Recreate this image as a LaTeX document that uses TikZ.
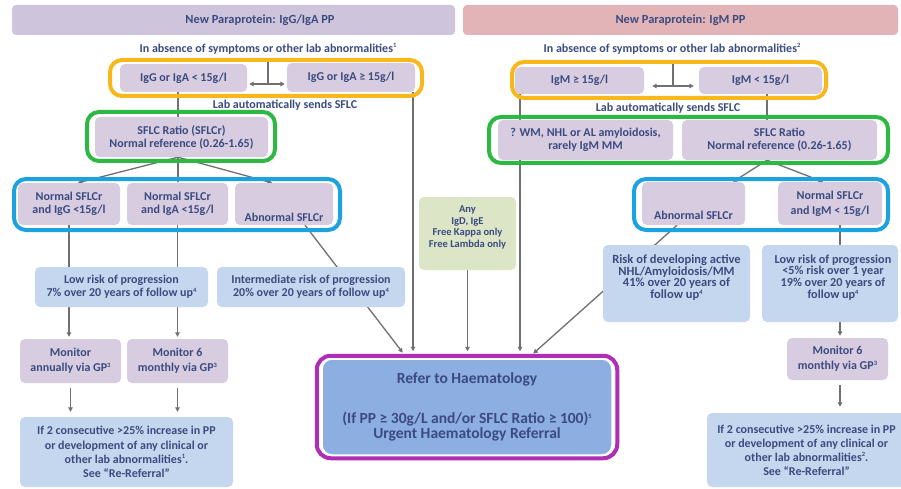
\documentclass[tikz,border=0pt]{standalone}
\usepackage{fontspec}
\setmainfont{Carlito}
\usetikzlibrary{arrows.meta,backgrounds,calc}
\definecolor{txt}{HTML}{3B4B80}
\definecolor{lav}{HTML}{D7CCE0}
\definecolor{hdrL}{HTML}{CEC4DC}
\definecolor{hdrR}{HTML}{E2B4B7}
\definecolor{lblue}{HTML}{C5D7EE}
\definecolor{anyg}{HTML}{DDE5C7}
\definecolor{haemb}{HTML}{8DAEE0}
\definecolor{fOr}{HTML}{F8B81C}
\definecolor{fGr}{HTML}{2DB843}
\definecolor{fBl}{HTML}{1CA2DF}
\definecolor{fPu}{HTML}{B02DB5}
\definecolor{conncol}{HTML}{707070}
\newcommand\mysup[1]{\raisebox{4.5pt}{\fontsize{6.5}{6.5}\selectfont #1}}
\tikzset{
  txtn/.style={inner sep=0pt, align=center, text=txt, font=\bfseries\fontsize{12}{13}\selectfont},
  box/.style={txtn, rounded corners=5pt},
  lavbox/.style={box, fill=lav},
  bluebox/.style={box, fill=lblue},
  frame/.style={draw=#1, line width=4pt, rounded corners=12pt, inner sep=0pt},
  conn/.style={draw=conncol, line width=1.3pt},
  arrS/.style={conn, -{Triangle[length=4.5pt,width=4.5pt]}},
  darr/.style={conn, {Triangle[length=4.5pt,width=4.5pt]}-{Triangle[length=4.5pt,width=4.5pt]}},
}
\begin{document}
\begin{tikzpicture}[x=1pt,y=-1pt]
\useasboundingbox (0,0) rectangle (901,489);
\begin{pgfonlayer}{background}
\fill[white] (0,0) rectangle (901,489);
\end{pgfonlayer}

% headers
\node[box, fill=hdrL, rounded corners=4pt, minimum width=443pt, minimum height=30pt,
      font=\bfseries\fontsize{12.4}{13}\selectfont] (hL) at (233.5,20) {\hspace*{53pt}New Paraprotein: IgG/IgA PP};
\node[box, fill=hdrR, rounded corners=4pt, minimum width=435pt, minimum height=30pt,
      font=\bfseries\fontsize{12.4}{13}\selectfont] (hR) at (680.5,20) {New Paraprotein: IgM PP};
\node[txtn] (absL) at (268,49) {In absence of symptoms or other lab abnormalities\mysup{1}};
\node[txtn] (absR) at (672,49) {In absence of symptoms or other lab abnormalities\mysup{2}};

% ---------- left column ----------
\node[frame=fOr, minimum width=312pt, minimum height=36pt] (oL) at (266,78) {};
\node[lavbox, minimum width=127pt, minimum height=28pt] (ltL) at (183.5,78) {IgG or IgA < 15g/l};
\node[lavbox, minimum width=128pt, minimum height=29pt] (geL) at (351,77.5) {IgG or IgA ≥ 15g/l};
\coordinate (jL) at (268,84);
\node[txtn] (labL) at (285,105) {Lab automatically sends SFLC};

\node[frame=fGr, minimum width=188pt, minimum height=49pt] (gL) at (181,136.5) {};
\node[lavbox, minimum width=173pt, minimum height=40pt] (sflcL) at (181.5,137) {SFLC Ratio (SFLCr)\\Normal reference (0.26-1.65)};

\node[frame=fBl, minimum width=326pt, minimum height=51pt] (bL) at (177,204.5) {};
\node[lavbox, minimum width=102pt, minimum height=42pt] (n1L) at (69,204) {Normal SFLCr\\and IgG <15g/l};
\node[lavbox, minimum width=101pt, minimum height=42pt] (n2L) at (177.5,204) {Normal SFLCr\\and IgA <15g/l};
\node[lavbox, minimum width=98pt, minimum height=42pt,
      label={[txtn, yshift=-13pt]center:Abnormal SFLCr}] (abL) at (284,204) {};

\node[bluebox, minimum width=173pt, minimum height=40pt] (lowL) at (121.5,287) {Low risk of progression\\7\% over 20 years of follow up\mysup{4}};
\node[bluebox, minimum width=188pt, minimum height=40pt] (intL) at (311,287) {Intermediate risk of progression\\20\% over 20 years of follow up\mysup{4}};

\node[lavbox, minimum width=101pt, minimum height=44pt, font=\bfseries\fontsize{12}{15}\selectfont] (monAL) at (70.5,361) {Monitor\\annually via GP\mysup{3}};
\node[lavbox, minimum width=101pt, minimum height=44pt, font=\bfseries\fontsize{12}{15}\selectfont] (mon6L) at (177.5,361) {Monitor 6\\monthly via GP\mysup{3}};
\node[bluebox, minimum width=213pt, minimum height=70pt, font=\bfseries\fontsize{12}{14.3}\selectfont] (botL) at (126.5,452)
  {If 2 consecutive >25\% increase in PP\\or development of any clinical or\\other lab abnormalities\mysup{1}.\\See “Re-Referral”};

% ---------- middle ----------
\node[box, fill=anyg, minimum width=97pt, minimum height=73pt,
      label={[txtn, font=\bfseries\fontsize{10.5}{11.7}\selectfont, yshift=6pt]center:Any\\IgD, IgE\\Free Kappa only\\Free Lambda only}] (anyB) at (467.5,233.5) {};

\node[box, fill=haemb, draw=white, line width=1.5pt, rounded corners=10pt, minimum width=290pt, minimum height=96pt,
      font=\bfseries\fontsize{15.5}{15.5}\selectfont] (haem) at (467,407)
  {Refer to Haematology\\[24pt](If PP ≥ 30g/L and/or SFLC Ratio ≥ 100)\mysup{5}\\Urgent Haematology Referral};
\draw[draw=fPu, line width=4pt, rounded corners=14pt] ([shift={(-4.5,-2.5)}]haem.north west) rectangle ([shift={(4.5,2.5)}]haem.south east);

% ---------- right column ----------
\node[frame=fOr, minimum width=314pt, minimum height=36pt] (oR) at (669,80) {};
\node[lavbox, minimum width=129pt, minimum height=27pt] (geR) at (579.5,80.5) {IgM ≥ 15g/l};
\node[lavbox, minimum width=123pt, minimum height=27pt] (ltR) at (760.5,80.5) {IgM < 15g/l};
\coordinate (jR) at (673,86);
\node[txtn] (labR) at (668,108) {Lab automatically sends SFLC};

\node[frame=fGr, minimum width=399pt, minimum height=46pt] (gR) at (688.5,140) {};
\node[lavbox, minimum width=175pt, minimum height=40pt] (wmR) at (585.5,140) {? WM, NHL or AL amyloidosis,\\rarely IgM MM};
\node[lavbox, minimum width=195pt, minimum height=40pt] (sflcR) at (779.5,140) {SFLC Ratio\\Normal reference (0.26-1.65)};

\node[frame=fBl, minimum width=254pt, minimum height=51pt] (bR) at (761,204.5) {};
\node[lavbox, minimum width=103pt, minimum height=43pt,
      label={[txtn, yshift=-11.5pt]center:Abnormal SFLCr}] (abR) at (693.5,203.5) {};
\node[lavbox, minimum width=104pt, minimum height=43pt, font=\bfseries\fontsize{12}{15}\selectfont] (nR) at (830,203.5) {Normal SFLCr\\and IgM < 15g/l};

\node[bluebox, minimum width=147pt, minimum height=77pt,
      label={[txtn, font=\bfseries\fontsize{12.5}{11.8}\selectfont, yshift=6pt]center:Risk of developing active\\NHL/Amyloidosis/MM\\41\% over 20 years of\\follow up\mysup{4}}] (riskR) at (676.5,283.5) {};
\node[bluebox, minimum width=136pt, minimum height=77pt,
      label={[txtn, font=\bfseries\fontsize{12.2}{11.8}\selectfont, yshift=6pt, xshift=3pt]center:Low risk of progression\\<5\% risk over 1 year\\19\% over 20 years of\\follow up\mysup{4}}] (lowR) at (830,283.5) {};
\node[lavbox, minimum width=101pt, minimum height=42pt, font=\bfseries\fontsize{12}{15}\selectfont] (mon6R) at (837.5,359) {Monitor 6\\monthly via GP\mysup{3}};
\node[bluebox, minimum width=199pt, minimum height=74pt, font=\bfseries\fontsize{12}{14}\selectfont] (botR) at (806.5,450)
  {If 2 consecutive >25\% increase in PP\\or development of any clinical or\\other lab abnormalities\mysup{2}.\\See “Re-Referral”};

% ---------- connectors ----------
\begin{pgfonlayer}{background}
% left top
\draw[conn] (jL) -- (jL |- oL.north);
\draw[darr, shorten <=2pt, shorten >=2pt] (ltL.east |- jL) -- (geL.west |- jL);
\draw[conn] ([xshift=-5.5pt]ltL.south) -- ([xshift=-5.5pt]ltL.south |- sflcL.north);
\coordinate (fL) at ([xshift=-3.5pt]sflcL.south);
\draw[arrS] (fL) -- ([xshift=9pt]n1L.north);
\draw[arrS] (fL) -- (fL |- n2L.north);
\draw[arrS] (fL) -- ([xshift=-12pt]abL.north);
\draw[conn] (n1L.south) -- (n1L.south |- lowL.north);
\draw[conn] (n2L.south) -- (n2L.south |- lowL.north);
\draw[arrS, shorten >=2pt] (n1L.south |- lowL.south) -- (n1L.south |- monAL.north);
\draw[arrS, shorten >=2pt] (n2L.south |- lowL.south) -- (n2L.south |- mon6L.north);
\draw[arrS, shorten <=5pt, shorten >=5pt] (monAL.south) -- (monAL.south |- botL.north);
\draw[arrS, shorten <=5pt, shorten >=5pt] (mon6L.south) -- (mon6L.south |- botL.north);
% into haematology
\draw[arrS, shorten >=7pt] ([xshift=21pt]abL.south) -- ([xshift=-60pt]haem.north);
\draw[arrS, shorten >=7pt] ([xshift=62pt]geL.south) -- ([xshift=62pt]geL.south |- haem.north);
\draw[arrS, shorten >=7pt] (anyB.south) -- (anyB.south |- haem.north);
\draw[conn] ([xshift=-59.5pt]geR.south) -- ([xshift=-59.5pt]geR.south |- wmR.north);
\draw[arrS, shorten >=7pt] ([xshift=-59.5pt]geR.south |- wmR.south) -- ([xshift=-59.5pt]geR.south |- haem.north);
\draw[arrS, shorten >=7pt] ([xshift=-16.5pt]abR.south) -- ([xshift=61pt]haem.north);
% right top
\draw[conn] (jR) -- (jR |- oR.north);
\draw[darr, shorten <=8pt, shorten >=5pt] (geR.east |- jR) -- (ltR.west |- jR);
\draw[conn] ([xshift=6.5pt]ltR.south) -- ([xshift=6.5pt]ltR.south |- sflcR.north);
\coordinate (fR) at ([xshift=-12.5pt]sflcR.south);
\draw[arrS] (fR) -- ([xshift=39.5pt]abR.north);
\draw[arrS] (fR) -- ([xshift=-7pt]nR.north);
\draw[conn] ([xshift=10pt]nR.south) -- ([xshift=10pt]nR.south |- lowR.north);
\draw[arrS, shorten >=2pt] ([xshift=10pt]nR.south |- lowR.south) -- ([xshift=10pt]nR.south |- mon6R.north);
\draw[arrS, shorten <=5pt, shorten >=6pt] ([xshift=2.5pt]mon6R.south) -- ([xshift=2.5pt]mon6R.south |- botR.north);
\end{pgfonlayer}
\end{tikzpicture}
\end{document}
